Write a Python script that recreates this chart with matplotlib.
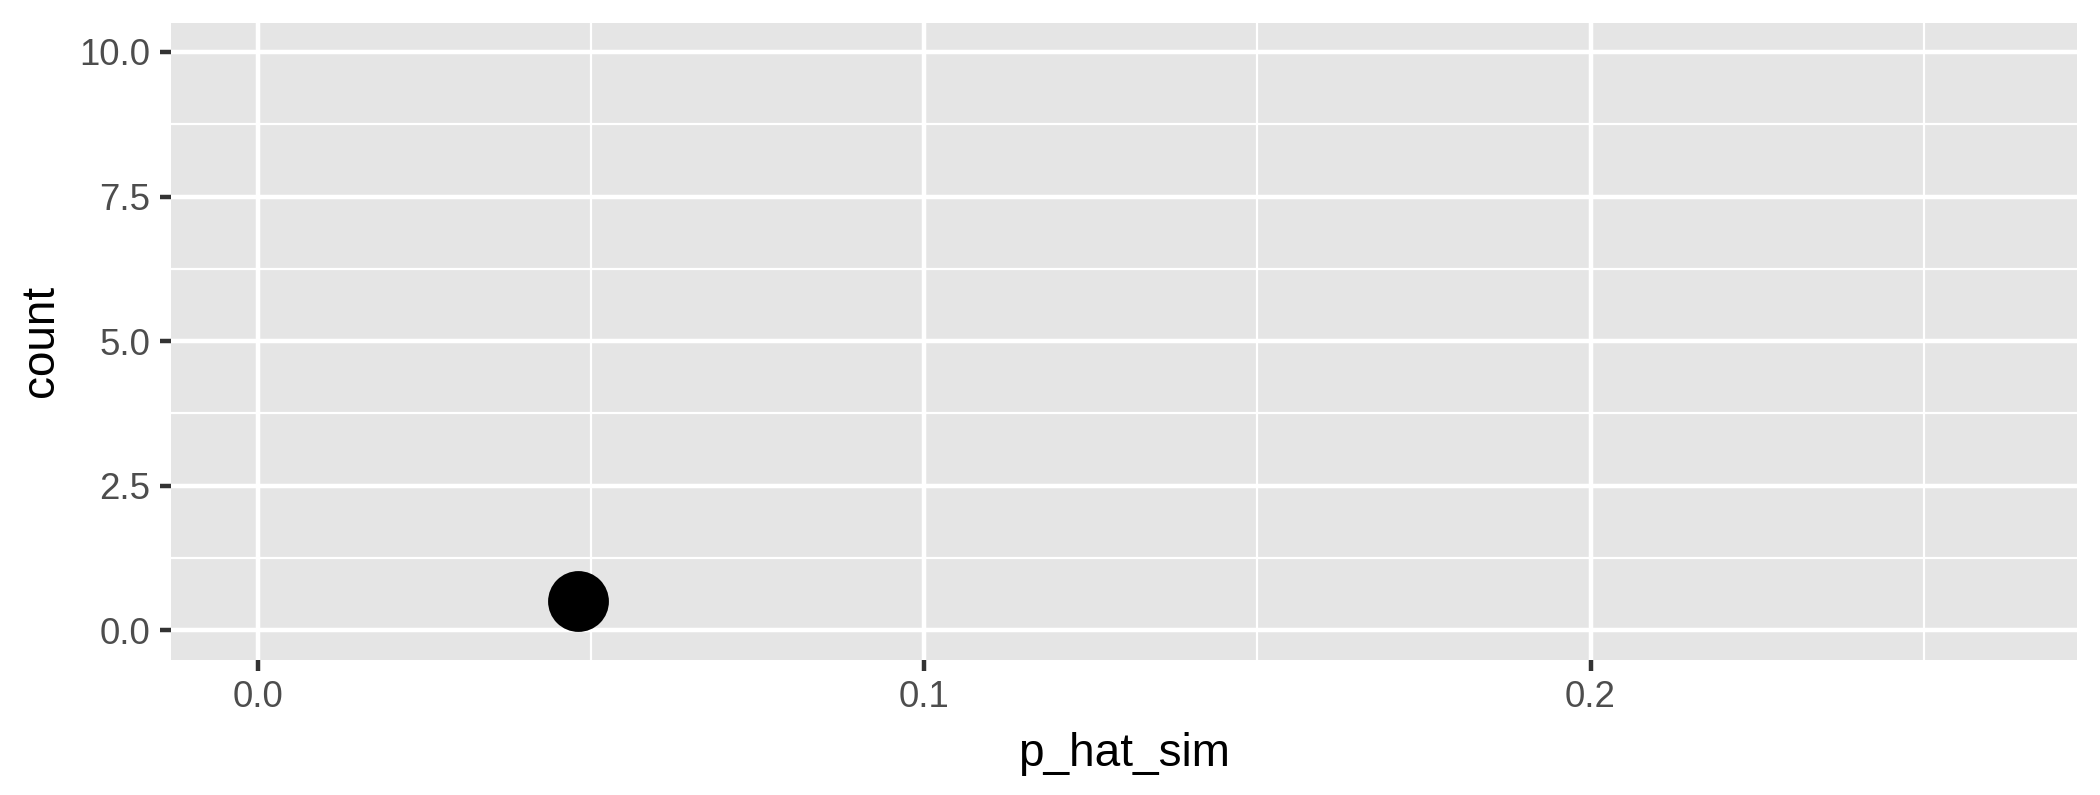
import numpy as np
import matplotlib
matplotlib.use("Agg")
import matplotlib.pyplot as plt
from matplotlib.ticker import MultipleLocator

# donnees
p_hat_sim = [0.048]
count_pos = [0.5]

x_ticks = [0.0, 0.1, 0.2]
x_labels = ["0.0", "0.1", "0.2"]
y_ticks = [0.0, 2.5, 5.0, 7.5, 10.0]
y_labels = ["0.0", "2.5", "5.0", "7.5", "10.0"]

plt.rcParams['font.family'] = ['Liberation Sans', 'DejaVu Sans']

fig = plt.figure(figsize=(7, 2.65), dpi=300)
ax = fig.add_axes([171/2100, 1 - 659.5/795, (2077-171)/2100, (659.5-23)/795])
ax.set_facecolor('#E5E5E5')

ax.set_xlim(-0.013, 0.273)
ax.set_ylim(-0.505, 10.5)
ax.set_xticks(x_ticks)
ax.set_xticklabels(x_labels)
ax.set_yticks(y_ticks)
ax.set_yticklabels(y_labels)
ax.xaxis.set_minor_locator(MultipleLocator(0.05))
ax.yaxis.set_minor_locator(MultipleLocator(1.25))

ax.grid(which='major', color='white', linewidth=1.07)
ax.grid(which='minor', color='white', linewidth=0.53)
ax.set_axisbelow(True)
for s in ax.spines.values():
    s.set_visible(False)

ax.tick_params(which='major', length=2.75, width=1.07, color='#333333',
               labelsize=8.8, labelcolor='#4D4D4D', pad=2.2)
ax.tick_params(which='minor', length=0)

ax.plot(p_hat_sim, count_pos, 'o', color='black', markersize=14.6,
        markeredgewidth=0)

ax.set_xlabel('p_hat_sim', fontsize=11, color='black', labelpad=4)
ax.set_ylabel('count', fontsize=11, color='black', labelpad=4)

fig.savefig('out.png', dpi=300)
